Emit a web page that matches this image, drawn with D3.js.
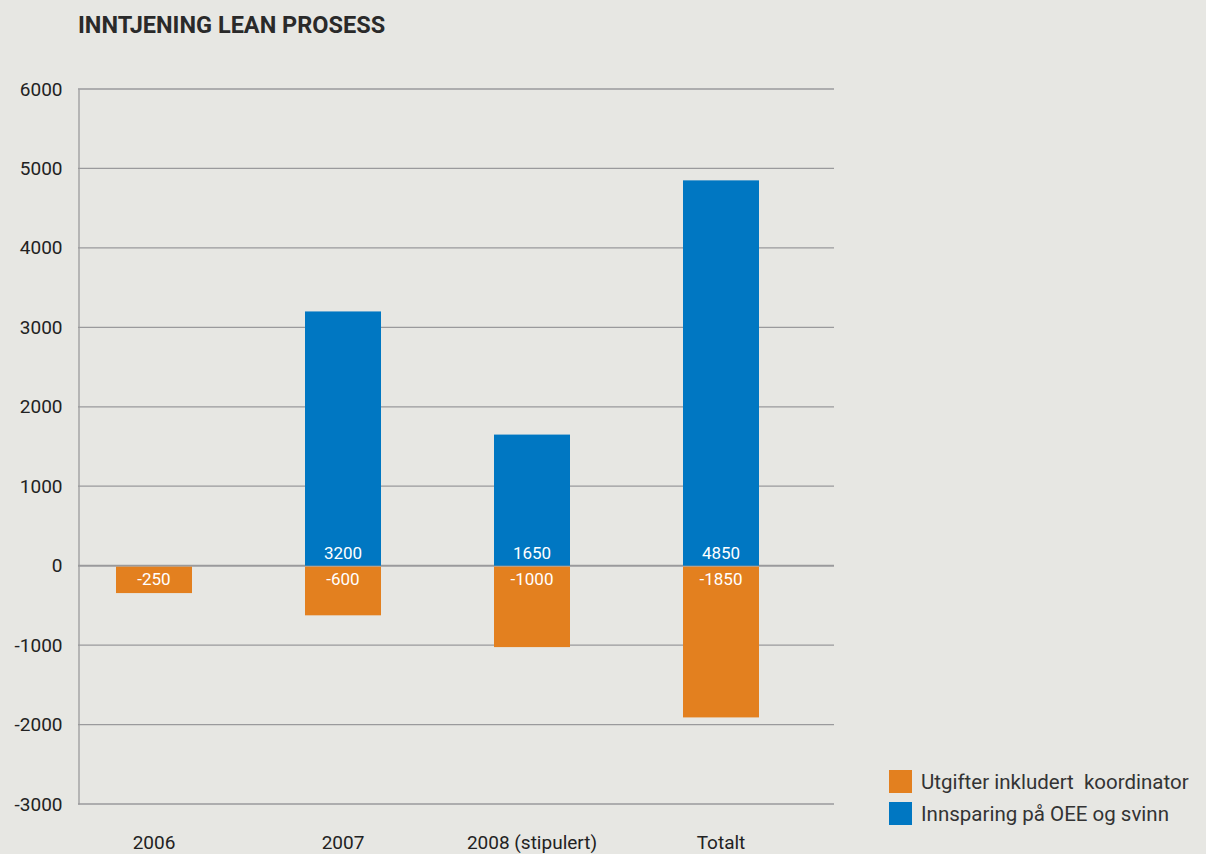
<!DOCTYPE html>
<html>
<head>
<meta charset="utf-8">
<script src="https://cdn.jsdelivr.net/npm/d3@7"></script>
<style>
  body { margin: 0; background: #e7e7e3; }
  svg { display: block; font-family: Roboto, "DejaVu Sans", sans-serif; }
</style>
</head>
<body>
<div id="chart"></div>
<script>
// data
const categories = ["2006", "2007", "2008 (stipulert)", "Totalt"];
const savings = [null, 3200, 1650, 4850];          // Innsparing på OEE og svinn
const costs = [-345, -625, -1025, -1910];          // Utgifter inkludert koordinator (bar heights as drawn)
const savingsLabels = ["", "3200", "1650", "4850"];
const costLabels = ["-250", "-600", "-1000", "-1850"];
const yTicks = [6000, 5000, 4000, 3000, 2000, 1000, 0, -1000, -2000, -3000];
const legendNames = ["Utgifter inkludert  koordinator", "Innsparing på OEE og svinn"];

const W = 1206, H = 854;
const orange = "#e3801f", blue = "#0077c2";

const svg = d3.select("#chart").append("svg")
    .attr("width", W).attr("height", H);

svg.append("text")
    .attr("x", 78).attr("y", 33)
    .attr("font-size", 23.5).attr("font-weight", "bold")
    .attr("fill", "#2a2a2a")
    .text("INNTJENING LEAN PROSESS");

const y = d3.scaleLinear().domain([-3000, 6000]).range([804, 89]);
const x = d3.scalePoint().domain(categories).range([154, 721]);
const barW = 76;

// gridlines
svg.append("g").selectAll("line")
    .data(yTicks)
    .enter().append("line")
    .attr("x1", 78).attr("x2", 834)
    .attr("y1", d => y(d)).attr("y2", d => y(d))
    .attr("stroke", "#9a9a9c")
    .attr("stroke-width", d => d === 0 ? 2 : 1.3);

// y axis
const yAxis = svg.append("g")
    .attr("transform", "translate(78.5,0)")
    .call(d3.axisLeft(y).tickValues(yTicks).tickSize(0).tickPadding(16).tickFormat(d => String(d)));
yAxis.select(".domain").attr("stroke", "#9a9a9c").attr("stroke-width", 1.3);
yAxis.selectAll("text")
    .attr("font-size", 19).attr("fill", "#222")
    .attr("font-family", "Roboto, sans-serif");

// savings bars
svg.append("g").selectAll("rect")
    .data(categories.filter((c, i) => savings[i] !== null))
    .enter().append("rect")
    .attr("x", d => x(d) - barW / 2)
    .attr("width", barW)
    .attr("y", d => y(savings[categories.indexOf(d)]))
    .attr("height", d => y(0) - y(savings[categories.indexOf(d)]))
    .attr("fill", blue);

// cost bars
svg.append("g").selectAll("rect")
    .data(categories)
    .enter().append("rect")
    .attr("x", d => x(d) - barW / 2)
    .attr("width", barW)
    .attr("y", y(0) + 1)
    .attr("height", (d, i) => y(costs[i]) - y(0) - 1)
    .attr("fill", orange);

// bar labels
svg.append("g").selectAll("text")
    .data(categories)
    .enter().append("text")
    .attr("x", d => x(d)).attr("y", y(0) - 7)
    .attr("text-anchor", "middle")
    .attr("font-size", 17).attr("fill", "#fff")
    .text((d, i) => savingsLabels[i]);

svg.append("g").selectAll("text")
    .data(categories)
    .enter().append("text")
    .attr("x", d => x(d)).attr("y", y(0) + 19)
    .attr("text-anchor", "middle")
    .attr("font-size", 17).attr("fill", "#fff")
    .text((d, i) => costLabels[i]);

// category labels
svg.append("g").selectAll("text")
    .data(categories)
    .enter().append("text")
    .attr("x", d => x(d)).attr("y", 849)
    .attr("text-anchor", "middle")
    .attr("font-size", 19).attr("fill", "#222")
    .text(d => d);

// legend
const legend = svg.append("g").selectAll("g")
    .data(legendNames)
    .enter().append("g")
    .attr("transform", (d, i) => "translate(889," + (770 + i * 32) + ")");
legend.append("rect")
    .attr("width", 23).attr("height", 23)
    .attr("fill", (d, i) => i === 0 ? orange : blue);
legend.append("text")
    .attr("x", 32).attr("y", 19)
    .attr("font-size", 20.5).attr("fill", "#333")
    .style("white-space", "pre")
    .text(d => d);
</script>
</body>
</html>
